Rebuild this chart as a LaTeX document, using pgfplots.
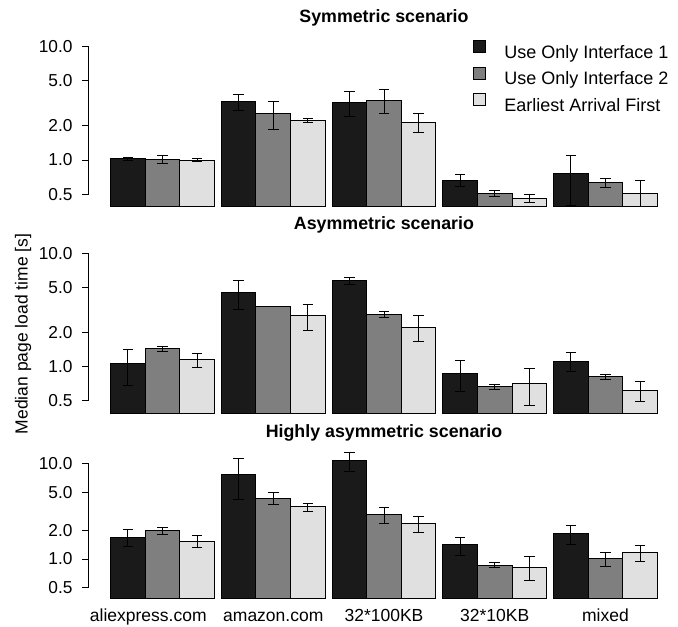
\documentclass[border=0pt]{standalone}
\usepackage{pgfplots}
\pgfplotsset{compat=1.18}
\usepackage{pgfplotstable}
\usepackage{fontspec}
\setmainfont{Liberation Sans}
\definecolor{cA}{HTML}{1A1A1A}
\definecolor{cB}{HTML}{7F7F7F}
\definecolor{cC}{HTML}{E0E0E0}

% columns: x positions, values, error plus, error minus
\pgfplotstableread{
xa xb xc ya pa ma yb pb mb yc pc mc
0.7 1.7 2.7 1.02 0.036 0.034 1.007 0.078 0.072 0.99 0.045 0.03
3.9 4.9 5.9 3.27 0.53 0.52 2.58 0.73 0.74 2.25 0.08 0.09
7.1 8.1 9.1 3.23 0.81 0.80 3.36 0.85 0.78 2.13 0.42 0.40
10.3 11.3 12.3 0.66 0.088 0.082 0.505 0.031 0.025 0.456 0.038 0.036
13.5 14.5 15.5 0.752 0.348 0.352 0.627 0.057 0.057 0.505 0.155 0.205
}\tabS
\pgfplotstableread{
xa xb xc ya pa ma yb pb mb yc pc mc
0.7 1.7 2.7 1.06 0.36 0.376 1.43 0.08 0.07 1.15 0.16 0.16
3.9 4.9 5.9 4.47 1.24 1.31 3.36 0 0 2.82 0.73 0.73
7.1 8.1 9.1 5.71 0.35 0.39 2.89 0.15 0.19 2.22 0.58 0.57
10.3 11.3 12.3 0.862 0.258 0.26 0.662 0.032 0.032 0.712 0.254 0.259
13.5 14.5 15.5 1.11 0.21 0.212 0.81 0.045 0.042 0.614 0.119 0.12
}\tabA
\pgfplotstableread{
xa xb xc ya pa ma yb pb mb yc pc mc
0.7 1.7 2.7 1.70 0.32 0.335 1.98 0.17 0.17 1.53 0.23 0.20
3.9 4.9 5.9 7.74 3.56 3.51 4.33 0.65 0.61 3.55 0.32 0.39
7.1 8.1 9.1 10.8 2.3 2.54 2.92 0.59 0.55 2.33 0.45 0.44
10.3 11.3 12.3 1.42 0.28 0.32 0.859 0.049 0.049 0.818 0.242 0.23
13.5 14.5 15.5 1.85 0.41 0.43 1.0 0.17 0.162 1.18 0.21 0.23
}\tabH

\begin{document}
\begin{tikzpicture}
\useasboundingbox (0,0) rectangle (678pt,627pt);

\begin{axis}[scale only axis, width=590.4pt, height=176.6pt,
  at={(88.8pt,420.3pt)}, anchor=south west,
  xmin=-0.432, xmax=16.632,
  ymode=log, ymin=0.3868, ymax=14, log origin y=infty,
  axis x line*=bottom, axis y line*=left,
  x axis line style={draw=none}, y axis line style={draw=none},
  ytick={0.5,1,2,5,10}, yticklabels={0.5,1.0,2.0,5.0,10.0},
  yminorticks=false, tick align=outside, major tick length=7pt,
  y tick style={black, line width=0.8pt}, x tick style={draw=none},
  yticklabel style={anchor=east, inner sep=0pt, xshift=-9.1pt, font=\fontsize{17.3}{20}\selectfont},
  xtick=\empty,
  title={Symmetric scenario},
  title style={at={(0.5,1)}, anchor=base, yshift=1.1pt, font=\bfseries\fontsize{17.8}{20}\selectfont},
  legend style={at={(0.6513,0.9422)}, anchor=north west, draw=none, fill=none,
    inner sep=0pt, outer sep=0pt, row sep=4.5pt,
    font=\fontsize{18}{20}\selectfont,
    nodes={inner sep=0pt, text height=13pt, text depth=4pt}},
  legend cell align=left,
  legend image code/.code={\draw[#1, line width=1pt] (0pt,1pt) rectangle (12pt,13pt); \path (30pt,0pt);},
]
\addplot[ybar, bar width=34.6pt, bar shift=0pt, fill=cA, draw=black, line width=1pt,
  error bars/y dir=both, error bars/y explicit,
  error bars/error bar style={line width=1pt, black},
  error bars/error mark options={rotate=90, mark size=5.3pt, line width=1pt, black}]
  table[x=xa, y=ya, y error plus=pa, y error minus=ma] {\tabS};
\addplot[ybar, bar width=34.6pt, bar shift=0pt, fill=cB, draw=black, line width=1pt,
  error bars/y dir=both, error bars/y explicit,
  error bars/error bar style={line width=1pt, black},
  error bars/error mark options={rotate=90, mark size=5.3pt, line width=1pt, black}]
  table[x=xb, y=yb, y error plus=pb, y error minus=mb] {\tabS};
\addplot[ybar, bar width=34.6pt, bar shift=0pt, fill=cC, draw=black, line width=1pt,
  error bars/y dir=both, error bars/y explicit,
  error bars/error bar style={line width=1pt, black},
  error bars/error mark options={rotate=90, mark size=5.3pt, line width=1pt, black}]
  table[x=xc, y=yc, y error plus=pc, y error minus=mc] {\tabS};
\legend{Use Only Interface 1, Use Only Interface 2, Earliest Arrival First}
\coordinate (t1) at (axis cs:-0.432,10);
\coordinate (b1) at (axis cs:-0.432,0.5);
\end{axis}
\draw[line width=0.8pt] (b1) -- (t1);

\begin{axis}[scale only axis, width=590.4pt, height=176.6pt,
  at={(88.8pt,213.7pt)}, anchor=south west,
  xmin=-0.432, xmax=16.632,
  ymode=log, ymin=0.3868, ymax=14, log origin y=infty,
  axis x line*=bottom, axis y line*=left,
  x axis line style={draw=none}, y axis line style={draw=none},
  ytick={0.5,1,2,5,10}, yticklabels={0.5,1.0,2.0,5.0,10.0},
  yminorticks=false, tick align=outside, major tick length=7pt,
  y tick style={black, line width=0.8pt}, x tick style={draw=none},
  yticklabel style={anchor=east, inner sep=0pt, xshift=-9.1pt, font=\fontsize{17.3}{20}\selectfont},
  xtick=\empty,
  title={Asymmetric scenario},
  title style={at={(0.5,1)}, anchor=base, yshift=1.2pt, font=\bfseries\fontsize{17.8}{20}\selectfont},
]
\addplot[ybar, bar width=34.6pt, bar shift=0pt, fill=cA, draw=black, line width=1pt,
  error bars/y dir=both, error bars/y explicit,
  error bars/error bar style={line width=1pt, black},
  error bars/error mark options={rotate=90, mark size=5.3pt, line width=1pt, black}]
  table[x=xa, y=ya, y error plus=pa, y error minus=ma] {\tabA};
\addplot[ybar, bar width=34.6pt, bar shift=0pt, fill=cB, draw=black, line width=1pt,
  error bars/y dir=both, error bars/y explicit,
  error bars/error bar style={line width=1pt, black},
  error bars/error mark options={rotate=90, mark size=5.3pt, line width=1pt, black}]
  table[x=xb, y=yb, y error plus=pb, y error minus=mb] {\tabA};
\addplot[ybar, bar width=34.6pt, bar shift=0pt, fill=cC, draw=black, line width=1pt,
  error bars/y dir=both, error bars/y explicit,
  error bars/error bar style={line width=1pt, black},
  error bars/error mark options={rotate=90, mark size=5.3pt, line width=1pt, black}]
  table[x=xc, y=yc, y error plus=pc, y error minus=mc] {\tabA};
\coordinate (t2) at (axis cs:-0.432,10);
\coordinate (b2) at (axis cs:-0.432,0.5);
\end{axis}
\draw[line width=0.8pt] (b2) -- (t2);

\begin{axis}[scale only axis, width=590.4pt, height=148.5pt,
  at={(88.8pt,28.7pt)}, anchor=south west,
  xmin=-0.432, xmax=16.632,
  ymode=log, ymin=0.3868, ymax=14, log origin y=infty,
  axis x line*=bottom, axis y line*=left,
  x axis line style={draw=none}, y axis line style={draw=none},
  ytick={0.5,1,2,5,10}, yticklabels={0.5,1.0,2.0,5.0,10.0},
  yminorticks=false, tick align=outside, major tick length=7pt,
  y tick style={black, line width=0.8pt}, x tick style={draw=none},
  yticklabel style={anchor=east, inner sep=0pt, xshift=-9.1pt, font=\fontsize{17.3}{20}\selectfont},
  xtick={1.287,4.9,8.1,11.3,14.5},
  xticklabels={aliexpress.com, amazon.com, 32*100KB, 32*10KB, mixed},
  xticklabel style={anchor=base, inner sep=0pt, yshift=-16.7pt, font=\fontsize{17.5}{20}\selectfont},
  title={Highly asymmetric scenario},
  title style={at={(0.5,1)}, anchor=base, yshift=6pt, font=\bfseries\fontsize{17.8}{20}\selectfont},
]
\addplot[ybar, bar width=34.6pt, bar shift=0pt, fill=cA, draw=black, line width=1pt,
  error bars/y dir=both, error bars/y explicit,
  error bars/error bar style={line width=1pt, black},
  error bars/error mark options={rotate=90, mark size=5.3pt, line width=1pt, black}]
  table[x=xa, y=ya, y error plus=pa, y error minus=ma] {\tabH};
\addplot[ybar, bar width=34.6pt, bar shift=0pt, fill=cB, draw=black, line width=1pt,
  error bars/y dir=both, error bars/y explicit,
  error bars/error bar style={line width=1pt, black},
  error bars/error mark options={rotate=90, mark size=5.3pt, line width=1pt, black}]
  table[x=xb, y=yb, y error plus=pb, y error minus=mb] {\tabH};
\addplot[ybar, bar width=34.6pt, bar shift=0pt, fill=cC, draw=black, line width=1pt,
  error bars/y dir=both, error bars/y explicit,
  error bars/error bar style={line width=1pt, black},
  error bars/error mark options={rotate=90, mark size=5.3pt, line width=1pt, black}]
  table[x=xc, y=yc, y error plus=pc, y error minus=mc] {\tabH};
\coordinate (t3) at (axis cs:-0.432,10);
\coordinate (b3) at (axis cs:-0.432,0.5);
\end{axis}
\draw[line width=0.8pt] (b3) -- (t3);

\node[rotate=90, anchor=base, font=\fontsize{17.5}{20}\selectfont] at (27.5pt,293pt) {Median page load time [s]};
\end{tikzpicture}
\end{document}
